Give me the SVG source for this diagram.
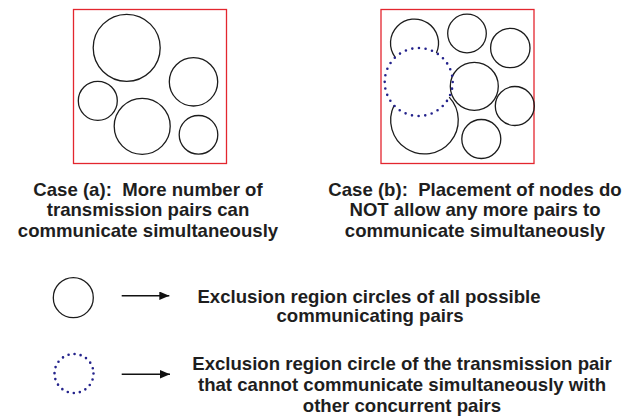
<svg xmlns="http://www.w3.org/2000/svg" width="637" height="416" viewBox="0 0 637 416">
<style>
.box{fill:none;stroke:#e3262e;stroke-width:1.3}
.c{fill:none;stroke:#1c1c1c;stroke-width:1.3}
.dot{fill:none;stroke:#24238c;stroke-width:2.6;stroke-linecap:round}
.t{font-family:"Liberation Sans",Arial,sans-serif;font-weight:bold;font-size:18.6px;fill:#1e1e1e;text-anchor:middle;white-space:pre}
.arr{stroke:#111;stroke-width:1.4;fill:none}
</style>
<defs>
<marker id="ah" markerUnits="userSpaceOnUse" markerWidth="12" markerHeight="10" refX="10" refY="4.2" orient="auto">
<path d="M0,0 L10,4.2 L0,8.4 Z" fill="#111"/>
</marker>
</defs>
<rect width="637" height="416" fill="#fff"/>
<g id="panel-a">
<rect class="box" x="73.5" y="9.5" width="153" height="154"/>
<circle class="c" cx="126.7" cy="47.8" r="33.5"/>
<circle class="c" cx="193.5" cy="81.8" r="24.2"/>
<circle class="c" cx="97.8" cy="100.8" r="19.5"/>
<circle class="c" cx="142.2" cy="126.3" r="28"/>
<circle class="c" cx="198.5" cy="134.8" r="19.3"/>
</g>
<g id="panel-b">
<rect class="box" x="381" y="9.5" width="153" height="154"/>
<path class="c" d="M395.2,57.3 A24,24 0 1 1 436.4,52.9"/>
<circle class="c" cx="467" cy="33.5" r="19.3"/>
<circle class="c" cx="510.3" cy="48" r="19.7"/>
<circle class="c" cx="474.3" cy="86.3" r="24"/>
<circle class="c" cx="514.8" cy="106" r="19.5"/>
<circle class="c" cx="481.3" cy="139" r="19.5"/>
<path class="c" d="M394,105.5 A33.8,33.8 0 1 0 449.2,97.1"/>
<circle class="dot" cx="418.7" cy="82" r="34" stroke-dasharray="0 6.676"/>
</g>
<g id="caption-a">
<text class="t" x="148" y="195.5" xml:space="preserve">Case (a):  More number of</text>
<text class="t" x="148" y="216">transmission pairs can</text>
<text class="t" x="148" y="236.5">communicate simultaneously</text>
</g>
<g id="caption-b">
<text class="t" x="475" y="195.5" xml:space="preserve">Case (b):  Placement of nodes do</text>
<text class="t" x="475" y="216">NOT allow any more pairs to</text>
<text class="t" x="475" y="236.5">communicate simultaneously</text>
</g>
<g id="legend-solid">
<circle class="c" cx="73.3" cy="297.7" r="20"/>
</g>
<g id="legend-dotted">
<circle class="dot" cx="74" cy="373.5" r="19.5" stroke-dasharray="0 6.126"/>
</g>
<g id="connectors">
<line class="arr" x1="121.7" y1="295.7" x2="169.3" y2="295.7" marker-end="url(#ah)"/>
<line class="arr" x1="121.7" y1="374.3" x2="170" y2="374.3" marker-end="url(#ah)"/>
</g>
<g id="legend-text-solid">
<text class="t" x="369" y="302.7">Exclusion region circles of all possible</text>
<text class="t" x="370" y="321.7">communicating pairs</text>
</g>
<g id="legend-text-dotted">
<text class="t" x="402" y="370">Exclusion region circle of the transmission pair</text>
<text class="t" x="402" y="391">that cannot communicate simultaneously with</text>
<text class="t" x="402" y="411.5">other concurrent pairs</text>
</g>
</svg>
